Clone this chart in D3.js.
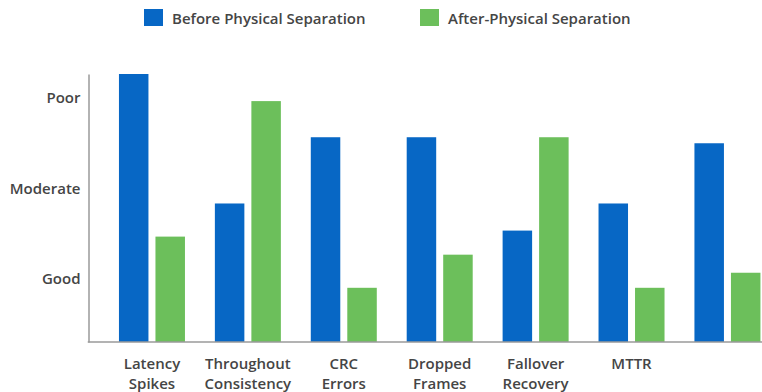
<!DOCTYPE html>
<html>
<head>
<meta charset="utf-8">
<script src="https://cdn.jsdelivr.net/npm/d3@7"></script>
<style>
  html, body { margin: 0; padding: 0; background: #fff; }
  svg { display: block; font-family: "Open Sans", "Noto Sans", sans-serif; }
</style>
</head>
<body>
<svg id="chart" width="762" height="392"></svg>
<script>
// Link health indicators, scored 0-100 (higher = worse)
const categories = [
  ["Latency", "Spikes"],
  ["Throughout", "Consistency"],
  ["CRC", "Errors"],
  ["Dropped", "Frames"],
  ["Fallover", "Recovery"],
  ["MTTR"],
  []
];
const seriesNames = ["Before Physical Separation", "After-Physical Separation"];
const beforeValues = [89, 46, 68, 68, 37, 46, 66];
const afterValues  = [35, 80, 18, 29, 68, 18, 23];
const levelValues  = [21, 51, 81];
const levelLabels  = ["Good", "Moderate", "Poor"];

const colors = ["#0767c5", "#6cbf5b"];
const textColor = "#454545";

const svg = d3.select("#chart");
const baseY = 342, axisX = 88.5;

const keys = categories.map((c, i) => "c" + i);
const rows = keys.map((k, i) => ({ key: k, label: categories[i], values: [beforeValues[i], afterValues[i]] }));

const x = d3.scaleBand().domain(keys).range([104, 775.4]).paddingInner(0).paddingOuter(0);
const groupW = 66;
const xs = d3.scaleBand().domain([0, 1])
  .range([(x.bandwidth() - groupW) / 2, (x.bandwidth() + groupW) / 2])
  .paddingInner(0.192).paddingOuter(0);

const y = d3.scaleLinear().domain([0, 89]).range([baseY, 74]);

// bars
const g = svg.append("g");
const groups = g.selectAll("g.grp").data(rows).join("g")
  .attr("class", "grp")
  .attr("transform", d => `translate(${x(d.key)},0)`);
groups.selectAll("rect").data(d => d.values.map((v, j) => ({ v, j }))).join("rect")
  .attr("x", d => xs(d.j))
  .attr("width", xs.bandwidth())
  .attr("y", d => y(d.v))
  .attr("height", d => baseY - y(d.v))
  .attr("fill", d => colors[d.j]);

// y axis
const yAxis = d3.axisLeft(y).tickValues(levelValues)
  .tickFormat((d, i) => levelLabels[i]).tickSize(0).tickPadding(8);
const ya = svg.append("g").attr("transform", `translate(${axisX},0)`).call(yAxis);
ya.select(".domain").attr("stroke", "#9a9a9a").attr("stroke-width", 1.5);
ya.selectAll("text").attr("fill", textColor).attr("font-size", 15).attr("font-weight", 600)
  .attr("font-family", "'Open Sans', sans-serif");

// baseline
svg.append("line").attr("x1", axisX - 0.75).attr("x2", 762)
  .attr("y1", baseY).attr("y2", baseY)
  .attr("stroke", "#9a9a9a").attr("stroke-width", 1.5);

// x labels
const xl = svg.append("g");
rows.forEach(r => {
  const cx = x(r.key) + x.bandwidth() / 2;
  const t = xl.append("text").attr("text-anchor", "middle")
    .attr("fill", textColor).attr("font-size", 15).attr("font-weight", 600);
  r.label.forEach((line, li) => {
    t.append("tspan").attr("x", cx).attr("y", 369 + li * 19.5).text(line);
  });
});

// legend
const legendX = [144, 420];
const lg = svg.append("g");
seriesNames.forEach((name, i) => {
  lg.append("rect").attr("x", legendX[i]).attr("y", 9).attr("width", 19).attr("height", 17)
    .attr("fill", colors[i]);
  lg.append("text").attr("x", legendX[i] + 28).attr("y", 23.5)
    .attr("fill", textColor).attr("font-size", 15).attr("font-weight", 600).text(name);
});
</script>
</body>
</html>
